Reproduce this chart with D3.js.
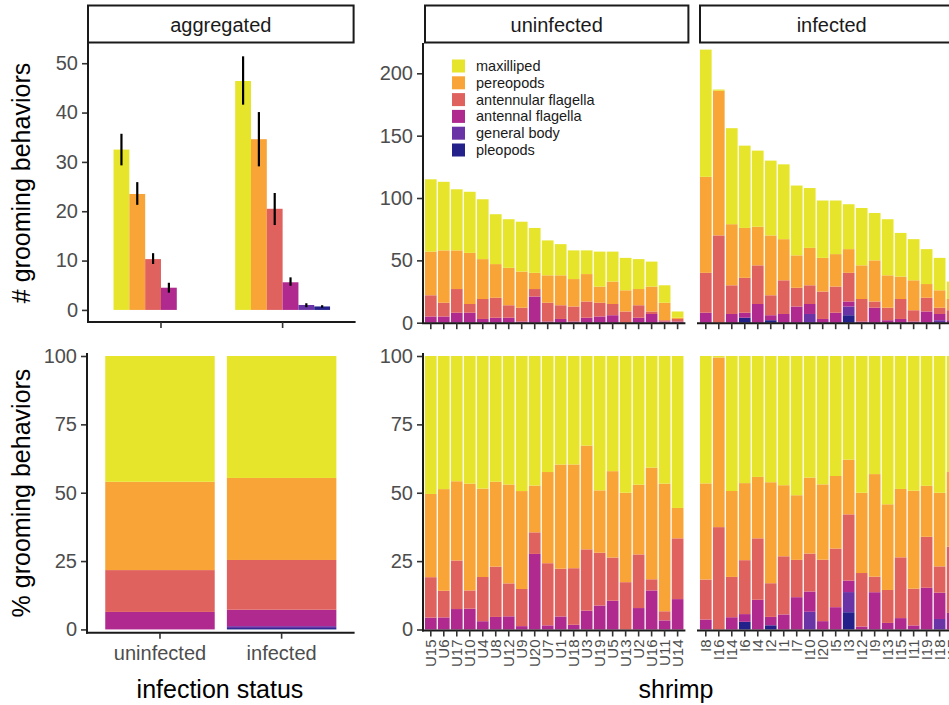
<!DOCTYPE html>
<html><head><meta charset="utf-8">
<script src="https://cdn.jsdelivr.net/npm/d3@7"></script>
<style>
body{margin:0;background:#fff;}
svg{display:block;}
text{font-family:"Liberation Sans",Arial,Helvetica,sans-serif;}
</style>
</head><body>
<svg id="c" width="949" height="705"></svg>
<script>
// ---------------- DATA ----------------
const behaviors = ["maxilliped","pereopods","antennular flagella","antennal flagella","general body","pleopods"];
const colors    = ["#E6E52B","#F8A437","#E0625F","#B0298F","#6B34A6","#24228A"];
const statuses  = ["uninfected","infected"];

// aggregated means (+ error bar limits), order = behaviors
const meanUninfected = [32.5, 23.5, 10.3, 4.5, 0, 0];
const loUninfected   = [29.3, 21.3, 9.3, 3.5, 0, 0];
const hiUninfected   = [35.7, 25.9, 11.5, 5.5, 0, 0];
const meanInfected   = [46.4, 34.6, 20.5, 5.6, 1.0, 0.7];
const loInfected     = [41.6, 29.1, 17.2, 4.9, 0.55, 0.45];
const hiInfected     = [51.4, 40.1, 23.7, 6.6, 1.35, 0.95];

// aggregated percentages, order = behaviors
const pctUninfected = [46.0, 32.3, 15.3, 6.4, 0, 0];
const pctInfected   = [44.6, 30.0, 18.2, 6.0, 0.7, 0.5];

// individual shrimp
const shrimpU = ["U15","U6","U17","U10","U4","U8","U12","U9","U20","U7","U1","U18","U3","U19","U5","U13","U2","U16","U11","U14"];
const maxU  = [58,55,49,49,48,40,39,40,36,28,25,23,19,28,24,26,24,20,14,5];
const perU  = [35,42,31,41,32,27,30,29,13,22,24,22,22,13,18,17,13,20,14,1];
const antuU = [17,11,19,7,16,16,10,11,6,15,11,12,13,11,9,9,10,2,1,2];
const antU  = [5,5,8,8,3,4,4,1,21,1,3,1,4,5,6,0,4,7,1,1];
const genU  = [0,0,0,0,0,0,0,0,0,0,0,0,0,0,0,0,0,0,0,0];
const pleU  = [0,0,0,0,0,0,0,0,0,0,0,0,0,0,0,0,0,0,0,0];

const shrimpI = ["I8","I16","I14","I6","I4","I2","I1","I7","I10","I20","I5","I3","I12","I9","I13","I15","I11","I19","I18","I17"];
const maxI  = [102,1,77,66,61,60,60,56,48,46,43,36,46,38,45,35,33,28,26,14];
const perI  = [77,116,49,40,31,48,33,26,30,27,26,19,27,33,26,18,24,11,14,9];
const antuI = [32,70,23,28,31,16,27,15,15,22,21,23,18,5,10,16,9,11,5,8];
const antI  = [8,0,7,4,15,4,7,13,8,3,8,4,1,12,2,3,1,9,5,2];
const genI  = [0,0,0,0,0,0,0,0,7,0,0,7,0,0,0,0,0,0,2,0];
const pleI  = [0,0,0,4,0,2,0,0,0,0,0,6,0,0,0,0,0,0,0,0];

const countTicks = [0,50,100,150,200];
const aggTicks   = [0,10,20,30,40,50];
const pctTicks   = [0,25,50,75,100];

// ---------------- HELPERS ----------------
const svg = d3.select("#c");
const color = d3.scaleOrdinal().domain(behaviors).range(colors);
const stackKeys = behaviors.slice().reverse(); // pleopods at bottom
const AX = "#1a1a1a", TK = "#333333", TL = "#4d4d4d";

function rowsFrom(names, arrs){
  return names.map((n,i)=>{
    const r={name:n};
    behaviors.forEach((b,j)=>r[b]=arrs[j][i]);
    return r;
  });
}
function yAxis(g, scale, ticks, fmt){
  g.call(d3.axisLeft(scale).tickValues(ticks).tickSize(6).tickPadding(4).tickFormat(fmt||(d=>d)));
  g.select(".domain").remove();
  g.selectAll(".tick line").attr("stroke",TK).attr("stroke-width",1.6);
  g.selectAll(".tick text").attr("fill",TL).style("font-size","20px");
}
function vline(x,y1,y2){ svg.append("line").attr("x1",x).attr("x2",x).attr("y1",y1).attr("y2",y2).attr("stroke",AX).attr("stroke-width",2); }
function hline(y,x1,x2){ svg.append("line").attr("x1",x1).attr("x2",x2).attr("y1",y).attr("y2",y).attr("stroke",AX).attr("stroke-width",2); }
function strip(x1,x2,label){
  svg.append("rect").attr("x",x1).attr("y",5.5).attr("width",x2-x1).attr("height",37)
    .attr("fill","#fff").attr("stroke",AX).attr("stroke-width",2);
  svg.append("text").attr("x",(x1+x2)/2).attr("y",32).attr("text-anchor","middle")
    .attr("fill",AX).style("font-size","20px").text(label);
}

// ---------------- TOP LEFT: aggregated means ----------------
const aggL=88, aggR=355.6;
const xAgg = d3.scaleBand().domain(statuses).range([aggL,aggR]).paddingInner(0.22).paddingOuter(0.21);
const xDod = d3.scaleBand().domain(behaviors).range([0,xAgg.bandwidth()]);
const yAgg = d3.scaleLinear().domain([-2.45,54.1]).range([322,43]);
const aggData = [
  {s:"uninfected", m:meanUninfected, lo:loUninfected, hi:hiUninfected},
  {s:"infected",   m:meanInfected,   lo:loInfected,   hi:hiInfected}
];
aggData.forEach(d=>{
  behaviors.forEach((b,i)=>{
    if(d.m[i]<=0) return;
    const x = xAgg(d.s)+xDod(b);
    svg.append("rect").attr("x",x).attr("width",xDod.bandwidth())
      .attr("y",yAgg(d.m[i])).attr("height",yAgg(0)-yAgg(d.m[i])).attr("fill",color(b));
    svg.append("line").attr("x1",x+xDod.bandwidth()/2).attr("x2",x+xDod.bandwidth()/2)
      .attr("y1",yAgg(d.lo[i])).attr("y2",yAgg(d.hi[i])).attr("stroke","#000").attr("stroke-width",2.2);
  });
});
svg.append("g").attr("transform",`translate(${aggL},0)`).call(g=>yAxis(g,yAgg,aggTicks));
vline(aggL,43,323); hline(322,aggL-1,aggR);
svg.append("g").attr("transform","translate(0,322)")
  .call(d3.axisBottom(xAgg).tickSize(6).tickFormat(""))
  .call(g=>{g.select(".domain").remove();g.selectAll(".tick line").attr("stroke",TK).attr("stroke-width",1.6);});
strip(aggL,aggR-2,"aggregated");

// ---------------- BOTTOM LEFT: aggregated percentages ----------------
const pL=87, pR=354.6;
const xP = d3.scaleBand().domain(statuses).range([pL,pR]).paddingInner(0.1).paddingOuter(0.15);
const yP = d3.scaleLinear().domain([-1.2,100]).range([632.7,356]);
const pctRows = rowsFrom(statuses, behaviors.map((b,i)=>[pctUninfected[i],pctInfected[i]]));
const pStack = d3.stack().keys(stackKeys)(pctRows);
pStack.forEach(layer=>{
  svg.append("g").attr("fill",color(layer.key)).selectAll("rect").data(layer).join("rect")
    .attr("x",d=>xP(d.data.name)).attr("width",xP.bandwidth())
    .attr("y",d=>yP(d[1])).attr("height",d=>Math.max(0,yP(d[0])-yP(d[1])));
});
svg.append("g").attr("transform",`translate(${pL},0)`).call(g=>yAxis(g,yP,pctTicks));
vline(pL,353,633.7); hline(632.7,pL-1,pR);
svg.append("g").attr("transform","translate(0,632.7)")
  .call(d3.axisBottom(xP).tickSize(6).tickPadding(7))
  .call(g=>{g.select(".domain").remove();
    g.selectAll(".tick line").attr("stroke",TK).attr("stroke-width",1.6);
    g.selectAll(".tick text").attr("fill",TL).style("font-size","20px").attr("dy","0.71em");});

// ---------------- RIGHT PANELS ----------------
const panelW = 262.4;
const panels = [
  {status:"uninfected", left:423, names:shrimpU, arrs:[maxU,perU,antuU,antU,genU,pleU]},
  {status:"infected",   left:698, names:shrimpI, arrs:[maxI,perI,antuI,antI,genI,pleI]}
];
const yC  = d3.scaleLinear().domain([0,224]).range([322.7,43.4]);
const yPR = d3.scaleLinear().domain([0,1]).range([629.5,356]);

panels.forEach(p=>{
  const x = d3.scaleBand().domain(p.names).range([p.left,p.left+panelW]).paddingInner(0.1).paddingOuter(0.15);
  const rows = rowsFrom(p.names,p.arrs);
  // counts
  d3.stack().keys(stackKeys)(rows).forEach(layer=>{
    svg.append("g").attr("fill",color(layer.key)).selectAll("rect").data(layer).join("rect")
      .attr("x",d=>x(d.data.name)).attr("width",x.bandwidth())
      .attr("y",d=>yC(d[1])).attr("height",d=>Math.max(0,yC(d[0])-yC(d[1])));
  });
  // percentages
  d3.stack().keys(stackKeys).offset(d3.stackOffsetExpand)(rows).forEach(layer=>{
    svg.append("g").attr("fill",color(layer.key)).selectAll("rect").data(layer).join("rect")
      .attr("x",d=>x(d.data.name)).attr("width",x.bandwidth())
      .attr("y",d=>yPR(d[1])).attr("height",d=>Math.max(0,yPR(d[0])-yPR(d[1])));
  });
  // x axes
  hline(323.2,p.left-1,p.left+panelW);
  svg.append("g").attr("transform","translate(0,323.2)")
    .call(d3.axisBottom(x).tickSize(6).tickFormat(""))
    .call(g=>{g.select(".domain").remove();g.selectAll(".tick line").attr("stroke",TK).attr("stroke-width",1.6);});
  hline(630.5,p.left-1,p.left+panelW);
  svg.append("g").attr("transform","translate(0,630.5)")
    .call(d3.axisBottom(x).tickSize(6))
    .call(g=>{g.select(".domain").remove();
      g.selectAll(".tick line").attr("stroke",TK).attr("stroke-width",1.6);
      g.selectAll(".tick text").attr("fill",TL).style("font-size","15px")
        .attr("transform","rotate(-90)").attr("text-anchor","end")
        .attr("x",-9).attr("y",0).attr("dy","0.36em");});
  strip(p.left+2,p.left+panelW+3,p.status);
});
// shared right y axes
svg.append("g").attr("transform","translate(423,0)").call(g=>yAxis(g,yC,countTicks));
vline(423,43,324);
svg.append("g").attr("transform","translate(423,0)").call(g=>yAxis(g,yPR,pctTicks.map(v=>v/100),d=>Math.round(d*100)));
vline(423,353,631.5);

// legend
const legStep = 16.8;
const leg = svg.append("g").attr("transform","translate(452,58)");
behaviors.forEach((b,i)=>{
  leg.append("rect").attr("x",0).attr("y",i*legStep+1.5).attr("width",13).attr("height",13).attr("fill",color(b));
  leg.append("text").attr("x",24).attr("y",i*legStep+8).attr("dy","0.35em")
    .attr("fill",AX).style("font-size","14.5px").text(b);
});

// axis titles
svg.append("text").attr("transform","translate(30,183) rotate(-90)").attr("text-anchor","middle")
  .attr("fill","#000").style("font-size","25px").text("# grooming behaviors");
svg.append("text").attr("transform","translate(30,493) rotate(-90)").attr("text-anchor","middle")
  .attr("fill","#000").style("font-size","25px").text("% grooming behaviors");
svg.append("text").attr("x",220).attr("y",698).attr("text-anchor","middle")
  .attr("fill","#000").style("font-size","25px").text("infection status");
svg.append("text").attr("x",676).attr("y",698).attr("text-anchor","middle")
  .attr("fill","#000").style("font-size","25px").text("shrimp");
</script>
</body></html>
